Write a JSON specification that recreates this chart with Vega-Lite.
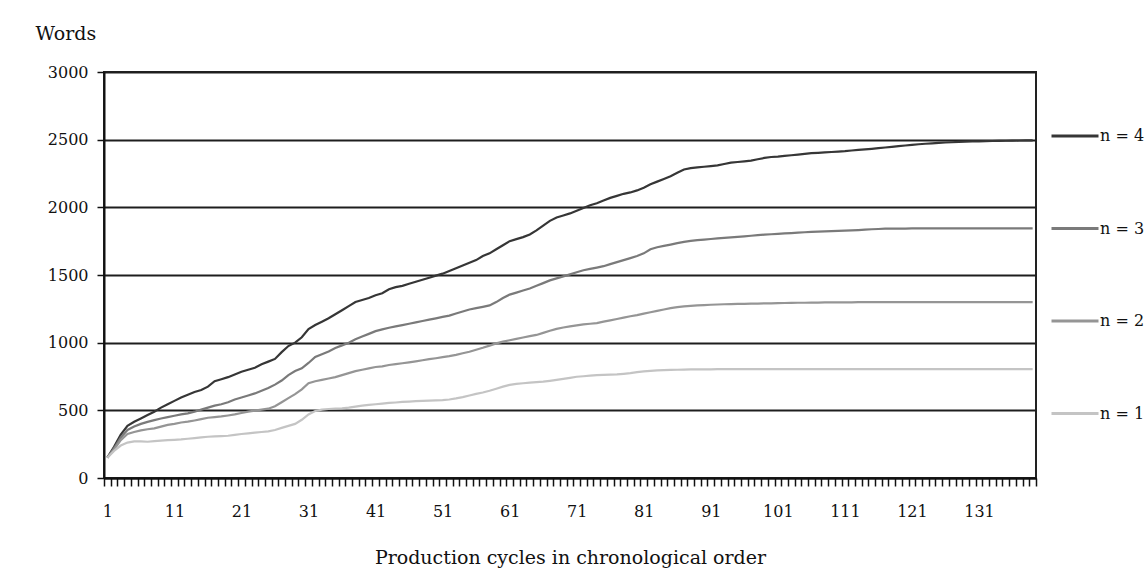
{
  "$schema": "https://vega.github.io/schema/vega-lite/v6.json",
  "autosize": {"type": "none"},
  "width": 932,
  "height": 406,
  "padding": {"left": 104, "top": 72, "right": 109, "bottom": 99},
  "background": "white",
  "config": {
    "font": "DejaVu Serif",
    "view": {"stroke": "#222222", "strokeWidth": 2}
  },
  "data": {"values": [
{"c":1,"n4":150,"n3":150,"n2":150,"n1":150},
{"c":2,"n4":230,"n3":220,"n2":210,"n1":200},
{"c":3,"n4":320,"n3":300,"n2":280,"n1":240},
{"c":4,"n4":385,"n3":355,"n2":325,"n1":262},
{"c":5,"n4":415,"n3":380,"n2":340,"n1":270},
{"c":6,"n4":440,"n3":400,"n2":352,"n1":270},
{"c":7,"n4":465,"n3":415,"n2":360,"n1":268},
{"c":8,"n4":490,"n3":428,"n2":367,"n1":272},
{"c":9,"n4":520,"n3":440,"n2":380,"n1":276},
{"c":10,"n4":545,"n3":450,"n2":392,"n1":280},
{"c":11,"n4":570,"n3":460,"n2":400,"n1":282},
{"c":12,"n4":595,"n3":470,"n2":410,"n1":285},
{"c":13,"n4":615,"n3":478,"n2":416,"n1":290},
{"c":14,"n4":635,"n3":490,"n2":425,"n1":295},
{"c":15,"n4":650,"n3":505,"n2":435,"n1":300},
{"c":16,"n4":675,"n3":520,"n2":445,"n1":305},
{"c":17,"n4":715,"n3":535,"n2":450,"n1":308},
{"c":18,"n4":730,"n3":545,"n2":455,"n1":310},
{"c":19,"n4":745,"n3":560,"n2":462,"n1":312},
{"c":20,"n4":765,"n3":580,"n2":470,"n1":318},
{"c":21,"n4":785,"n3":595,"n2":480,"n1":325},
{"c":22,"n4":800,"n3":610,"n2":490,"n1":330},
{"c":23,"n4":815,"n3":625,"n2":498,"n1":335},
{"c":24,"n4":840,"n3":645,"n2":505,"n1":340},
{"c":25,"n4":860,"n3":665,"n2":512,"n1":345},
{"c":26,"n4":880,"n3":690,"n2":530,"n1":355},
{"c":27,"n4":930,"n3":720,"n2":560,"n1":370},
{"c":28,"n4":975,"n3":760,"n2":590,"n1":385},
{"c":29,"n4":1000,"n3":790,"n2":620,"n1":400},
{"c":30,"n4":1040,"n3":810,"n2":655,"n1":430},
{"c":31,"n4":1100,"n3":850,"n2":700,"n1":470},
{"c":32,"n4":1130,"n3":895,"n2":715,"n1":495},
{"c":33,"n4":1155,"n3":915,"n2":725,"n1":505},
{"c":34,"n4":1180,"n3":935,"n2":735,"n1":510},
{"c":35,"n4":1210,"n3":960,"n2":745,"n1":512},
{"c":36,"n4":1240,"n3":980,"n2":760,"n1":515},
{"c":37,"n4":1270,"n3":1000,"n2":775,"n1":520},
{"c":38,"n4":1300,"n3":1025,"n2":790,"n1":528},
{"c":39,"n4":1315,"n3":1045,"n2":800,"n1":535},
{"c":40,"n4":1330,"n3":1065,"n2":810,"n1":540},
{"c":41,"n4":1350,"n3":1085,"n2":820,"n1":545},
{"c":42,"n4":1365,"n3":1098,"n2":825,"n1":550},
{"c":43,"n4":1395,"n3":1110,"n2":835,"n1":555},
{"c":44,"n4":1410,"n3":1120,"n2":842,"n1":558},
{"c":45,"n4":1420,"n3":1130,"n2":848,"n1":562},
{"c":46,"n4":1435,"n3":1140,"n2":855,"n1":565},
{"c":47,"n4":1450,"n3":1150,"n2":862,"n1":568},
{"c":48,"n4":1465,"n3":1160,"n2":870,"n1":570},
{"c":49,"n4":1480,"n3":1170,"n2":878,"n1":572},
{"c":50,"n4":1495,"n3":1180,"n2":885,"n1":574},
{"c":51,"n4":1510,"n3":1190,"n2":893,"n1":576},
{"c":52,"n4":1530,"n3":1200,"n2":900,"n1":580},
{"c":53,"n4":1550,"n3":1215,"n2":910,"n1":588},
{"c":54,"n4":1570,"n3":1230,"n2":922,"n1":598},
{"c":55,"n4":1590,"n3":1245,"n2":933,"n1":610},
{"c":56,"n4":1610,"n3":1255,"n2":948,"n1":622},
{"c":57,"n4":1640,"n3":1265,"n2":962,"n1":632},
{"c":58,"n4":1660,"n3":1275,"n2":978,"n1":645},
{"c":59,"n4":1690,"n3":1300,"n2":995,"n1":660},
{"c":60,"n4":1720,"n3":1330,"n2":1008,"n1":675},
{"c":61,"n4":1750,"n3":1355,"n2":1018,"n1":688},
{"c":62,"n4":1765,"n3":1370,"n2":1028,"n1":695},
{"c":63,"n4":1780,"n3":1385,"n2":1038,"n1":700},
{"c":64,"n4":1800,"n3":1400,"n2":1048,"n1":705},
{"c":65,"n4":1830,"n3":1420,"n2":1057,"n1":708},
{"c":66,"n4":1865,"n3":1440,"n2":1072,"n1":712},
{"c":67,"n4":1900,"n3":1460,"n2":1088,"n1":718},
{"c":68,"n4":1925,"n3":1475,"n2":1102,"n1":725},
{"c":69,"n4":1940,"n3":1490,"n2":1112,"n1":732},
{"c":70,"n4":1955,"n3":1505,"n2":1120,"n1":740},
{"c":71,"n4":1975,"n3":1520,"n2":1128,"n1":748},
{"c":72,"n4":1995,"n3":1535,"n2":1135,"n1":752},
{"c":73,"n4":2015,"n3":1545,"n2":1140,"n1":756},
{"c":74,"n4":2030,"n3":1555,"n2":1145,"n1":760},
{"c":75,"n4":2050,"n3":1565,"n2":1155,"n1":762},
{"c":76,"n4":2070,"n3":1580,"n2":1165,"n1":764},
{"c":77,"n4":2085,"n3":1595,"n2":1175,"n1":766},
{"c":78,"n4":2100,"n3":1610,"n2":1185,"n1":770},
{"c":79,"n4":2110,"n3":1625,"n2":1195,"n1":775},
{"c":80,"n4":2125,"n3":1640,"n2":1203,"n1":782},
{"c":81,"n4":2145,"n3":1660,"n2":1215,"n1":788},
{"c":82,"n4":2170,"n3":1690,"n2":1225,"n1":792},
{"c":83,"n4":2190,"n3":1705,"n2":1235,"n1":795},
{"c":84,"n4":2210,"n3":1715,"n2":1245,"n1":797},
{"c":85,"n4":2230,"n3":1725,"n2":1255,"n1":799},
{"c":86,"n4":2255,"n3":1735,"n2":1262,"n1":800},
{"c":87,"n4":2280,"n3":1745,"n2":1268,"n1":801},
{"c":88,"n4":2290,"n3":1752,"n2":1272,"n1":802},
{"c":89,"n4":2295,"n3":1758,"n2":1275,"n1":803},
{"c":90,"n4":2300,"n3":1762,"n2":1278,"n1":803},
{"c":91,"n4":2305,"n3":1766,"n2":1280,"n1":803},
{"c":92,"n4":2310,"n3":1770,"n2":1282,"n1":804},
{"c":93,"n4":2320,"n3":1774,"n2":1284,"n1":804},
{"c":94,"n4":2330,"n3":1778,"n2":1285,"n1":804},
{"c":95,"n4":2335,"n3":1782,"n2":1286,"n1":804},
{"c":96,"n4":2340,"n3":1786,"n2":1287,"n1":804},
{"c":97,"n4":2345,"n3":1790,"n2":1288,"n1":804},
{"c":98,"n4":2355,"n3":1794,"n2":1289,"n1":804},
{"c":99,"n4":2365,"n3":1798,"n2":1290,"n1":804},
{"c":100,"n4":2372,"n3":1801,"n2":1291,"n1":804},
{"c":101,"n4":2375,"n3":1804,"n2":1292,"n1":805},
{"c":102,"n4":2380,"n3":1807,"n2":1293,"n1":805},
{"c":103,"n4":2385,"n3":1810,"n2":1294,"n1":805},
{"c":104,"n4":2390,"n3":1813,"n2":1295,"n1":805},
{"c":105,"n4":2395,"n3":1816,"n2":1295,"n1":805},
{"c":106,"n4":2400,"n3":1818,"n2":1296,"n1":805},
{"c":107,"n4":2403,"n3":1820,"n2":1296,"n1":805},
{"c":108,"n4":2406,"n3":1822,"n2":1297,"n1":805},
{"c":109,"n4":2409,"n3":1824,"n2":1297,"n1":805},
{"c":110,"n4":2412,"n3":1826,"n2":1298,"n1":805},
{"c":111,"n4":2415,"n3":1828,"n2":1298,"n1":805},
{"c":112,"n4":2420,"n3":1830,"n2":1298,"n1":805},
{"c":113,"n4":2424,"n3":1832,"n2":1299,"n1":805},
{"c":114,"n4":2428,"n3":1835,"n2":1299,"n1":805},
{"c":115,"n4":2432,"n3":1838,"n2":1299,"n1":805},
{"c":116,"n4":2437,"n3":1840,"n2":1300,"n1":805},
{"c":117,"n4":2442,"n3":1842,"n2":1300,"n1":805},
{"c":118,"n4":2447,"n3":1843,"n2":1300,"n1":805},
{"c":119,"n4":2452,"n3":1843,"n2":1300,"n1":805},
{"c":120,"n4":2457,"n3":1843,"n2":1300,"n1":805},
{"c":121,"n4":2462,"n3":1844,"n2":1300,"n1":805},
{"c":122,"n4":2466,"n3":1844,"n2":1300,"n1":805},
{"c":123,"n4":2470,"n3":1844,"n2":1300,"n1":805},
{"c":124,"n4":2473,"n3":1844,"n2":1300,"n1":805},
{"c":125,"n4":2476,"n3":1845,"n2":1300,"n1":805},
{"c":126,"n4":2479,"n3":1845,"n2":1300,"n1":805},
{"c":127,"n4":2481,"n3":1845,"n2":1300,"n1":805},
{"c":128,"n4":2483,"n3":1845,"n2":1300,"n1":805},
{"c":129,"n4":2485,"n3":1845,"n2":1300,"n1":805},
{"c":130,"n4":2487,"n3":1845,"n2":1300,"n1":805},
{"c":131,"n4":2488,"n3":1845,"n2":1300,"n1":805},
{"c":132,"n4":2489,"n3":1845,"n2":1300,"n1":805},
{"c":133,"n4":2490,"n3":1845,"n2":1300,"n1":805},
{"c":134,"n4":2491,"n3":1845,"n2":1300,"n1":805},
{"c":135,"n4":2492,"n3":1845,"n2":1300,"n1":805},
{"c":136,"n4":2493,"n3":1845,"n2":1300,"n1":805},
{"c":137,"n4":2494,"n3":1845,"n2":1300,"n1":805},
{"c":138,"n4":2495,"n3":1845,"n2":1300,"n1":805},
{"c":139,"n4":2495,"n3":1845,"n2":1300,"n1":805}
  ]},
  "transform": [
    {"fold": ["n4", "n3", "n2", "n1"], "as": ["series", "words"]}
  ],
  "mark": {"type": "line", "strokeWidth": 2.2, "interpolate": "linear"},
  "encoding": {
    "x": {
      "field": "c",
      "type": "ordinal",
      "sort": "ascending",
      "bandPosition": 0.5,
      "scale": {"type": "band", "paddingInner": 0, "paddingOuter": 0},
      "axis": {
        "title": "Production cycles in chronological order",
        "titleFont": "DejaVu Serif",
        "titleFontSize": 19,
        "titleFontWeight": "normal",
        "titleColor": "#111111",
        "titleBaseline": "alphabetic",
        "titleY": 85,
        "labelExpr": "(toNumber(datum.value) - 1) % 10 == 0 ? datum.label : ''",
        "labelOverlap": false,
        "labelAngle": 0,
        "labelFont": "DejaVu Serif",
        "labelFontSize": 16,
        "labelColor": "#111111",
        "labelPadding": 17,
        "labelBaseline": "top",
        "tickBand": "extent",
        "tickSize": 8,
        "tickColor": "#111111",
        "tickWidth": 1.5,
        "domainColor": "#111111",
        "domainWidth": 2,
        "grid": false
      }
    },
    "y": {
      "field": "words",
      "type": "quantitative",
      "scale": {"domain": [0, 3000], "nice": false},
      "axis": {
        "values": [0, 500, 1000, 1500, 2000, 2500, 3000],
        "format": "d",
        "title": "Words",
        "titleAngle": 0,
        "titleAlign": "left",
        "titleBaseline": "middle",
        "titleX": -69,
        "titleY": -39,
        "titleFont": "DejaVu Serif",
        "titleFontSize": 19,
        "titleFontWeight": "normal",
        "titleColor": "#111111",
        "labelFont": "DejaVu Serif",
        "labelFontSize": 16,
        "labelColor": "#111111",
        "labelPadding": 9,
        "tickSize": 7,
        "tickColor": "#111111",
        "tickWidth": 1.5,
        "domainColor": "#111111",
        "domainWidth": 2,
        "grid": true,
        "gridColor": "#1e1e1e",
        "gridWidth": 2
      }
    },
    "color": {
      "field": "series",
      "type": "nominal",
      "sort": ["n4", "n3", "n2", "n1"],
      "scale": {"domain": ["n4", "n3", "n2", "n1"], "range": ["#363636", "#7a7a7a", "#959595", "#c4c4c4"]},
      "legend": {
        "title": null,
        "orient": "none",
        "legendX": 946,
        "legendY": 39,
        "padding": 0,
        "symbolType": "stroke",
        "symbolSize": 2209,
        "symbolStrokeWidth": 3,
        "rowPadding": 59.5,
        "labelExpr": "'n = ' + slice(datum.label, 1)",
        "labelFont": "DejaVu Serif",
        "labelFontSize": 16,
        "labelColor": "#111111",
        "labelOffset": 0
      }
    }
  }
}
